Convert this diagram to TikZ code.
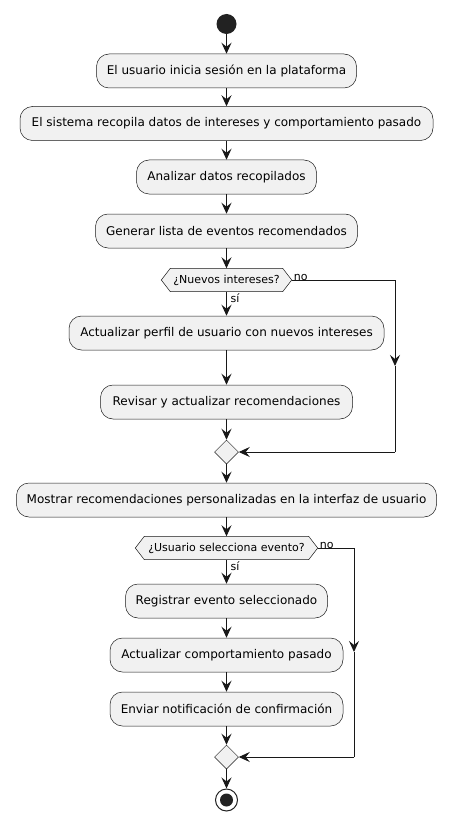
\documentclass[tikz,border=0pt]{standalone}
\usepackage{fontspec}
\setmainfont{DejaVu Sans}
\usetikzlibrary{arrows.meta,shapes.geometric}
\definecolor{boxfill}{HTML}{F1F1F1}
\definecolor{lineclr}{HTML}{181818}
\definecolor{dotclr}{HTML}{222222}
\begin{document}
\begin{tikzpicture}[x=1pt,y=-1pt,
  act/.style={draw=lineclr,fill=boxfill,line width=0.5pt,rounded corners=12.5pt,minimum height=34pt,inner xsep=10pt,font=\fontsize{12}{14}\selectfont,text=black},
  dectext/.style={inner sep=0pt,minimum height=23pt,font=\fontsize{11}{13}\selectfont,text=black},
  hexa/.style={draw=lineclr,fill=boxfill,line width=0.5pt},
  merge/.style={diamond,draw=lineclr,fill=boxfill,line width=0.5pt,minimum width=24pt,minimum height=24pt,inner sep=0pt,shape aspect=1},
  flow/.style={draw=lineclr,line width=1pt,-{Stealth[length=11pt,width=10pt,inset=4pt]}},
  plain/.style={draw=lineclr,line width=1pt},
  lbl/.style={inner sep=0pt,font=\fontsize{11}{13}\selectfont,text=black}
]
\useasboundingbox (0,0) rectangle (468,821);

\node[circle,fill=dotclr,minimum size=20pt,inner sep=0pt] (s) at (226.5,24) {};
\node[act,minimum width=260pt] (b1) at (226.5,71) {El usuario inicia sesión en la plataforma};
\node[act,minimum width=413pt] (b2) at (226.5,123.5) {El sistema recopila datos de intereses y comportamiento pasado};
\node[act,minimum width=180pt] (b3) at (226.5,177) {Analizar datos recopilados};
\node[act,minimum width=262pt] (b4) at (226.5,231) {Generar lista de eventos recomendados};

\node[dectext,minimum width=112pt] (d1) at (226.5,280) {¿Nuevos intereses?};
\path[hexa] (d1.north west) -- (d1.north east) -- ([xshift=9pt]d1.east) -- (d1.south east) -- (d1.south west) -- ([xshift=-9pt]d1.west) -- cycle;
\node[dectext,minimum width=112pt] at (d1) {¿Nuevos intereses?};
\coordinate (d1r) at ([xshift=9pt]d1.east);

\node[act,minimum width=315pt] (b5) at (226.5,333) {Actualizar perfil de usuario con nuevos intereses};
\node[act,minimum width=252pt] (b6) at (226.5,402) {Revisar y actualizar recomendaciones};
\node[merge] (m1) at (226.5,452) {};

\node[act,minimum width=420pt] (b7) at (226.5,500) {Mostrar recomendaciones personalizadas en la interfaz de usuario};

\node[dectext,minimum width=164pt] (d2) at (226.5,548) {¿Usuario selecciona evento?};
\path[hexa] (d2.north west) -- (d2.north east) -- ([xshift=9pt]d2.east) -- (d2.south east) -- (d2.south west) -- ([xshift=-9pt]d2.west) -- cycle;
\node[dectext,minimum width=164pt] at (d2) {¿Usuario selecciona evento?};
\coordinate (d2r) at ([xshift=9pt]d2.east);

\node[act,minimum width=202pt] (b8) at (226.5,601) {Registrar evento seleccionado};
\node[act,minimum width=233pt] (b9) at (226.5,655) {Actualizar comportamiento pasado};
\node[act,minimum width=233pt] (b10) at (226.5,709) {Enviar notificación de confirmación};
\node[merge] (m2) at (226.5,757) {};

\node[circle,draw=dotclr,line width=1pt,fill=white,minimum size=22pt,inner sep=0pt] (e) at (226.5,800) {};
\node[circle,fill=dotclr,minimum size=13pt,inner sep=0pt] at (e) {};

% connectors
\draw[flow] (s) -- (b1);
\draw[flow] (b1) -- (b2);
\draw[flow] (b2) -- (b3);
\draw[flow] (b3) -- (b4);
\draw[flow] (b4) -- (d1);
\draw[flow] (d1) -- (b5);
\draw[flow] (b5) -- (b6);
\draw[flow] (b6) -- (m1);
\draw[flow] (m1) -- (b7);
\draw[flow] (b7) -- (d2);
\draw[flow] (d2) -- (b8);
\draw[flow] (b8) -- (b9);
\draw[flow] (b9) -- (b10);
\draw[flow] (b10) -- (m2);
\draw[flow] (m2) -- (e);

\coordinate (c1a) at (395,280);
\coordinate (c1m) at (395,366);
\coordinate (c1b) at (395,452);
\draw[plain] (d1r) -- (c1a);
\draw[flow] (c1a) -- (c1m);
\draw[plain] (c1m) -- (c1b);
\draw[flow] (c1b) -- (m1.east);

\coordinate (c2a) at (354,548);
\coordinate (c2m) at (354,652);
\coordinate (c2b) at (354,757);
\draw[plain] (d2r) -- (c2a);
\draw[flow] (c2a) -- (c2m);
\draw[plain] (c2m) -- (c2b);
\draw[flow] (c2b) -- (m2.east);

\node[lbl,anchor=south west] (n1) at ([xshift=2pt,yshift=-1pt]d1r) {no};
\node[lbl,anchor=north west] (y1) at ([xshift=4pt,yshift=-2pt]d1.south) {sí};
\node[lbl,anchor=south west] (n2) at ([xshift=2pt,yshift=-1pt]d2r) {no};
\node[lbl,anchor=north west] (y2) at ([xshift=4pt,yshift=-2pt]d2.south) {sí};
\end{tikzpicture}
\end{document}
